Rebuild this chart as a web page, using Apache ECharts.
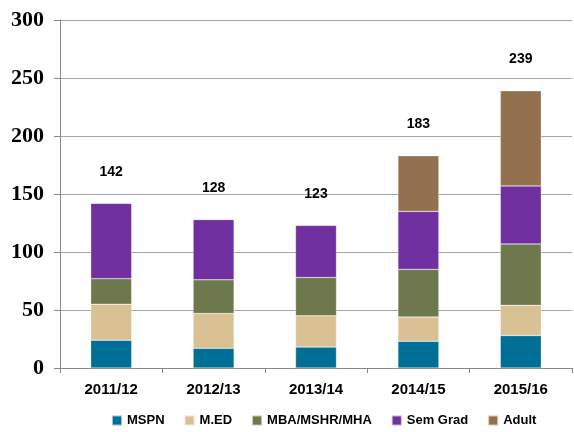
<!DOCTYPE html>
<html>
<head>
<meta charset="utf-8">
<script src="https://cdn.jsdelivr.net/npm/echarts@6/dist/echarts.min.js"></script>
<style>
  html, body { margin: 0; padding: 0; background: #fff; }
  #chart { width: 574px; height: 432px; }
</style>
</head>
<body>
<div id="chart"></div>
<script>
  const years = ['2011/12', '2012/13', '2013/14', '2014/15', '2015/16'];
  const mspn = [24, 17, 18, 23, 28];
  const med = [31, 30, 27, 21, 26];
  const mba = [22, 29, 33, 41, 53];
  const semGrad = [65, 52, 45, 50, 50];
  const adult = [0, 0, 0, 48, 82];
  const yTicks = [0, 50, 100, 150, 200, 250, 300];

  const totals = years.map((y, i) => mspn[i] + med[i] + mba[i] + semGrad[i] + adult[i]);

  const chart = echarts.init(document.getElementById('chart'));

  function barSeries(name, data, color) {
    return {
      name: name,
      type: 'bar',
      stack: 'total',
      barWidth: '40%',
      data: data,
      itemStyle: { color: color, borderColor: 'rgba(255,255,255,0.6)', borderWidth: 0.5 }
    };
  }

  const option = {
    animation: false,
    grid: { left: 60, right: 2, top: 20, bottom: 64 },
    legend: {
      bottom: 0,
      left: 106,
      data: ['MSPN', 'M.ED', 'MBA/MSHR/MHA', 'Sem Grad', 'Adult'],
      icon: 'rect',
      itemWidth: 10,
      itemHeight: 10,
      itemGap: 19,
      textStyle: { fontFamily: 'Liberation Sans', fontWeight: 'bold', fontSize: 13, color: '#000' }
    },
    xAxis: {
      type: 'category',
      data: years,
      axisLine: { lineStyle: { color: '#888' } },
      axisTick: { show: true, length: 5, lineStyle: { color: '#888' } },
      axisLabel: { margin: 14, fontFamily: 'Liberation Sans', fontWeight: 'bold', fontSize: 15, color: '#000' }
    },
    yAxis: {
      type: 'value',
      min: yTicks[0],
      max: yTicks[yTicks.length - 1],
      interval: 50,
      axisLine: { show: true, lineStyle: { color: '#888' } },
      axisTick: { show: true, length: 6, lineStyle: { color: '#888' } },
      splitLine: { lineStyle: { color: '#a6a6a6' } },
      axisLabel: { margin: 16, fontFamily: 'Liberation Serif', fontWeight: 'bold', fontSize: 22, color: '#000' }
    },
    series: [
      barSeries('MSPN', mspn, '#006f96'),
      barSeries('M.ED', med, '#d9c194'),
      barSeries('MBA/MSHR/MHA', mba, '#6d784d'),
      barSeries('Sem Grad', semGrad, '#7030a0'),
      barSeries('Adult', adult, '#93714e'),
      {
        name: 'Total',
        type: 'line',
        data: totals,
        symbol: 'circle',
        symbolSize: 1,
        showSymbol: true,
        itemStyle: { color: 'rgba(0,0,0,0)' },
        lineStyle: { width: 0, color: 'rgba(0,0,0,0)' },
        silent: true,
        z: 10,
        label: {
          show: true,
          position: 'top',
          distance: 24,
          fontFamily: 'Liberation Sans',
          fontWeight: 'bold',
          fontSize: 14,
          color: '#000'
        }
      }
    ]
  };

  chart.setOption(option);
</script>
</body>
</html>
